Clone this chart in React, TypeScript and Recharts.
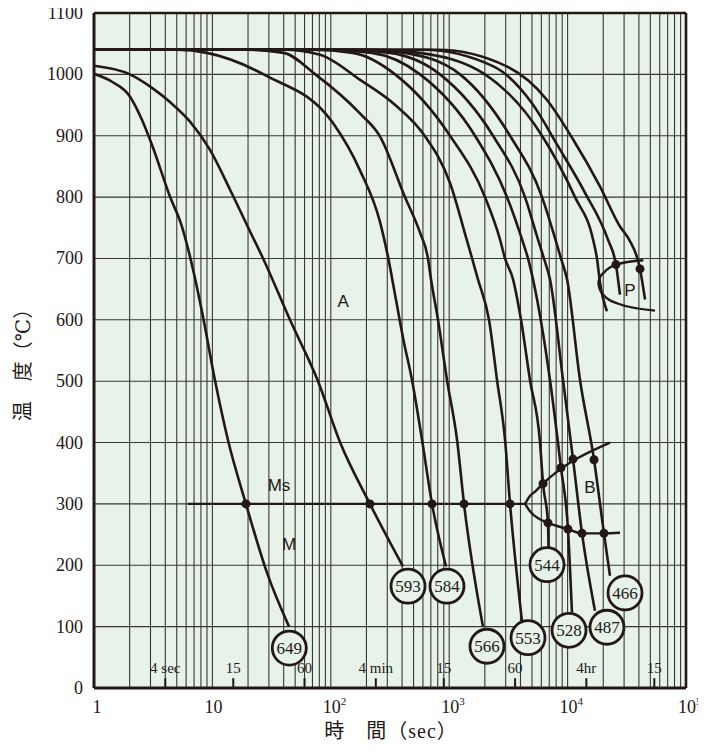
import React from "react"
import { ComposedChart, Line, Scatter, XAxis, YAxis, CartesianGrid, ReferenceLine } from "recharts"

type Pt = [number, number]

const INK = "#231815"
const BG = "#e7f2e8"
const SERIF = "'Liberation Serif', 'Times New Roman', 'DejaVu Serif', 'Noto Sans CJK JP', serif"
const SANS = "'Liberation Sans', Arial, sans-serif"

// cooling curves: [time (s), temperature (°C)]
const c649: Pt[] = [[1, 1001], [1.42, 988], [2.01, 964], [2.54, 926], [3.09, 885], [4.38, 801], [5.53, 752], [6.47, 703], [8.33, 605], [10.5, 502], [13.5, 405], [19.2, 300], [28.9, 188], [44.4, 100]]
const c593: Pt[] = [[1, 1014], [2.01, 1000], [3.09, 978], [4.38, 955], [6.47, 923], [9.55, 877], [14.1, 812], [20.8, 744], [26.8, 700], [45.2, 600], [78, 500], [120, 400], [214, 300], [407, 198]]
const c584: Pt[] = [[1, 1040], [5, 1040], [9, 1035], [29, 997], [104, 921], [176, 844], [260, 760], [304, 703], [355, 633], [410, 568], [485, 502], [589, 405], [716, 300], [940, 198]]
const c566: Pt[] = [[1, 1040], [20, 1040], [40, 1035], [74, 1000], [177, 936], [260, 899], [423, 800], [567, 742], [662, 700], [702, 666], [804, 600], [958, 502], [1164, 405], [1334, 300], [1928, 100]]
const c553: Pt[] = [[1, 1040], [40, 1040], [81, 1032], [177, 991], [350, 950], [620, 900], [1016, 823], [1404, 731], [1560, 700], [1750, 666], [2168, 600], [2535, 502], [2960, 405], [3265, 300], [4121, 108]]
const c544: Pt[] = [[1, 1040], [70, 1040], [154, 1035], [349, 1000], [1016, 900], [2005, 800], [2685, 731], [2960, 700], [3461, 666], [4040, 600], [4810, 502], [5850, 400], [6200, 333], [6830, 269], [6900, 230]]
const c528: Pt[] = [[1, 1040], [90, 1040], [223, 1035], [567, 1000], [1652, 900], [3076, 800], [4121, 731], [4630, 700], [5100, 666], [7100, 502], [8790, 359], [10070, 259], [10890, 123]]
const c487: Pt[] = [[1, 1040], [130, 1040], [316, 1035], [836, 1000], [2344, 900], [4368, 800], [5620, 731], [6310, 700], [7100, 666], [9150, 502], [11110, 373], [13240, 252], [17030, 126]]
const c466: Pt[] = [[1, 1040], [200, 1040], [423, 1035], [1233, 1000], [3265, 900], [6080, 800], [7890, 731], [8790, 700], [9890, 666], [12730, 502], [16720, 372], [20280, 252], [22800, 183]]
const cP0: Pt[] = [[1, 1040], [250, 1040], [567, 1035], [2005, 1000], [6080, 900], [11550, 800], [16400, 731], [17700, 700], [18800, 660], [21500, 614]]
const cP1: Pt[] = [[1, 1040], [600, 1040], [2360, 1013], [5000, 953], [8300, 883], [14040, 807], [21900, 731], [25600, 690], [27700, 641]]
const cP2: Pt[] = [[1, 1040], [800, 1040], [3060, 1013], [6650, 959], [11200, 893], [18800, 817], [27700, 752], [33000, 731], [40900, 683], [45100, 633]]

// transformation lines
const msLine: Pt[] = [[6.2, 300], [4368, 300]]
const bStartLine: Pt[] = [[4368, 300], [4810, 313], [5310, 320], [6200, 333], [22800, 400]]
const bFinishLine: Pt[] = [[4368, 300], [4810, 288], [5310, 280], [6830, 269], [10070, 259], [13240, 252], [20280, 252], [27700, 253]]
const pUpper: Pt[] = [[18170, 660], [18600, 668], [20000, 676], [25600, 690], [43600, 697]]
const pLower: Pt[] = [[18170, 660], [18600, 651], [20000, 641], [26000, 627], [54700, 615]]

// marked points
const msDots: Pt[] = [[19.2, 300], [214, 300], [716, 300], [1334, 300], [3265, 300]]
const bStartDots: Pt[] = [[6200, 333], [8790, 359], [11110, 373], [16720, 372]]
const bFinishDots: Pt[] = [[6830, 269], [10070, 259], [13240, 252], [20280, 252]]
const pDots: Pt[] = [[25600, 690], [40900, 683]]

// hardness labels (HV) at curve ends
const hardnessValues = ["649", "593", "584", "566", "553", "544", "528", "487", "466"]
const hardnessAt: Pt[] = [[44.6, 65], [449, 166], [958, 166], [2085, 68], [4630, 82], [6700, 201], [10280, 94], [21500, 99], [30550, 155]]

const regionNames = ["A", "Ms", "M", "B", "P"]
const regionAt: Pt[] = [[127, 630], [36.5, 331], [44.4, 234], [15460, 328], [33650, 649]]

const markerTimes = [4, 15, 60, 240, 900, 3600, 14400, 54000]
const markerLabels = ["4 sec", "15", "60", "4 min", "15", "60", "4hr", "15"]

const yTicks = [0, 100, 200, 300, 400, 500, 600, 700, 800, 900, 1000, 1100]
const decades = [1, 10, 100, 1000, 10000]
const xTicks = [...decades.flatMap((d) => [1, 2, 3, 4, 5, 6, 7, 8, 9].map((m) => m * d)), 100000]

const curves = [c649, c593, c584, c566, c553, c544, c528, c487, c466, cP0, cP1, cP2]
const extraLines = [msLine, bStartLine, bFinishLine, pUpper, pLower]

const rows = (pts: Pt[]) => pts.map(([t, T]) => ({ t, T }))

const XTick = (props: any) => {
  const { x, y, payload } = props
  const lg = Math.log10(payload.value)
  const e = Math.round(lg)
  if (Math.abs(lg - e) > 1e-6) return <g />
  if (e === 0)
    return (
      <text x={x + 3} y={y + 25} textAnchor="middle" fontFamily={SERIF} fontSize={18} fill={INK}>1</text>
    )
  if (e === 1)
    return (
      <text x={x + 1} y={y + 25} textAnchor="middle" fontFamily={SERIF} fontSize={18} fill={INK}>10</text>
    )
  return (
    <text x={x - 8} y={y + 25} textAnchor="start" fontFamily={SERIF} fontSize={18} fill={INK}>
      10
      <tspan dy={-8} fontSize={11}>{e}</tspan>
    </text>
  )
}

const YTick = (props: any) => {
  const { x, y, payload } = props
  return (
    <text x={x - 11} y={y} dy={6} textAnchor="end" fontFamily={SERIF} fontSize={18} fill={INK}>
      {payload.value}
    </text>
  )
}

const DotShape = (props: any) => <circle cx={props.cx} cy={props.cy} r={4.5} fill={INK} />

const HardnessShape = (props: any) => {
  const { cx, cy, payload } = props
  return (
    <g>
      <circle cx={cx} cy={cy} r={17} fill={BG} stroke={INK} strokeWidth={2.8} />
      <text x={cx} y={cy} dy={6} textAnchor="middle" fontFamily={SERIF} fontSize={17} fill={INK}>
        {payload.label}
      </text>
    </g>
  )
}

const RegionShape = (props: any) => {
  const { cx, cy, payload } = props
  return (
    <text x={cx} y={cy} dy={6} textAnchor="middle" fontFamily={SANS} fontSize={17} fill={INK}>
      {payload.label}
    </text>
  )
}

const MarkerShape = (props: any) => {
  const { cx, cy, payload } = props
  return (
    <text x={cx} y={cy} dy={5} textAnchor="middle" fontFamily={SERIF} fontSize={15} fill={INK}>
      {payload.label}
    </text>
  )
}

export default function App() {
  const hardnessData = hardnessAt.map(([t, T], i) => ({ t, T, label: hardnessValues[i] }))
  const regionData = regionAt.map(([t, T], i) => ({ t, T, label: regionNames[i] }))
  const markerData = markerTimes.map((t, i) => ({ t, T: 33, label: markerLabels[i] }))
  const dots = [...msDots, ...bStartDots, ...bFinishDots, ...pDots]

  return (
    <div style={{ position: "relative", width: 706, height: 754, margin: -8, background: "#fff" }}>
      <ComposedChart width={706} height={754} margin={{ top: 13, right: 20, left: 14, bottom: 36 }}>
        <CartesianGrid stroke="#3a3634" strokeWidth={1.1} fill={BG} fillOpacity={1} />
        <XAxis
          type="number"
          dataKey="t"
          scale="log"
          domain={[1, 100000]}
          ticks={xTicks}
          interval={0}
          allowDataOverflow
          tickLine={false}
          axisLine={false}
          tickSize={0}
          tickMargin={0}
          height={30}
          tick={<XTick />}
        />
        <YAxis
          type="number"
          dataKey="T"
          domain={[0, 1100]}
          ticks={yTicks}
          interval={0}
          tickLine={false}
          axisLine={false}
          tickSize={0}
          tickMargin={0}
          width={80}
          tick={<YTick />}
        />
        <ReferenceLine y={0} stroke={INK} strokeWidth={3} />
        <ReferenceLine y={1100} stroke={INK} strokeWidth={2.6} />
        <ReferenceLine x={1} stroke={INK} strokeWidth={3} />
        <ReferenceLine x={100000} stroke={INK} strokeWidth={2.6} />
        {markerTimes.map((t, i) => (
          <ReferenceLine
            key={`mk-${i}`}
            segment={[{ x: t, y: 0 }, { x: t, y: 16 }]}
            stroke={INK}
            strokeWidth={2}
          />
        ))}
        {curves.map((c, i) => (
          <Line
            key={`c-${i}`}
            data={rows(c)}
            dataKey="T"
            type="monotone"
            dot={false}
            stroke={INK}
            strokeWidth={2.6}
            isAnimationActive={false}
          />
        ))}
        {extraLines.map((c, i) => (
          <Line
            key={`l-${i}`}
            data={rows(c)}
            dataKey="T"
            type="monotone"
            dot={false}
            stroke={INK}
            strokeWidth={2.4}
            isAnimationActive={false}
          />
        ))}
        <Scatter data={rows(dots)} shape={<DotShape />} isAnimationActive={false} />
        <Scatter data={hardnessData} shape={<HardnessShape />} isAnimationActive={false} />
        <Scatter data={regionData} shape={<RegionShape />} isAnimationActive={false} />
        <Scatter data={markerData} shape={<MarkerShape />} isAnimationActive={false} />
      </ComposedChart>
      <div
        style={{
          position: "absolute",
          left: 391,
          top: 729,
          transform: "translate(-50%, -50%)",
          fontFamily: SERIF,
          fontSize: 20,
          letterSpacing: 1,
          whiteSpace: "nowrap",
          color: INK,
        }}
      >
        時　間（sec）
      </div>
      <div
        style={{
          position: "absolute",
          left: 21,
          top: 360,
          transform: "translate(-50%, -50%) rotate(-90deg)",
          fontFamily: SERIF,
          fontSize: 20,
          whiteSpace: "nowrap",
          color: INK,
        }}
      >
        温　度（℃）
      </div>
    </div>
  )
}
